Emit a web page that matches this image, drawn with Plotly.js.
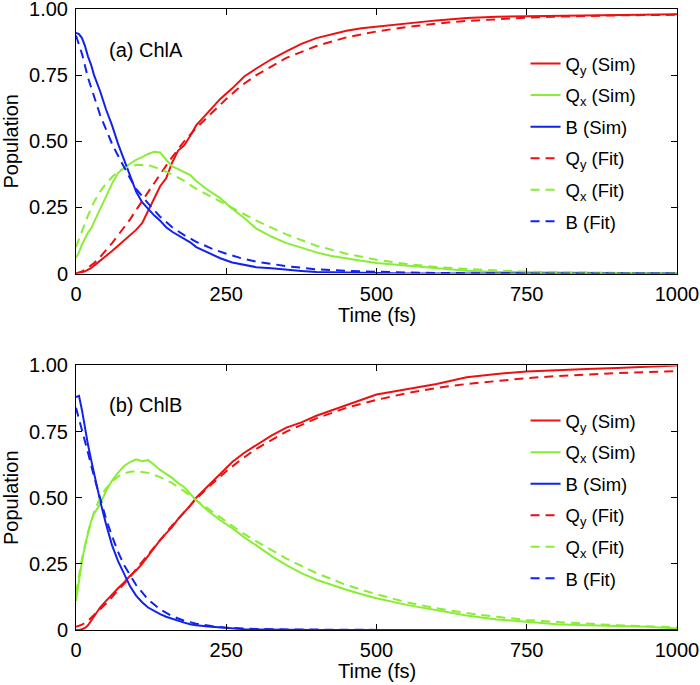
<!DOCTYPE html>
<html>
<head>
<meta charset="utf-8">
<script src="https://cdn.plot.ly/plotly-3.0.1.min.js"></script>
<style>html,body{margin:0;padding:0;background:#fff;}#chart{width:700px;height:685px;}</style>
</head>
<body>
<div id="chart"></div>
<script>
// Time grids (fs)
const tSim = [0,5,10,15,20,25,30,40,50,60,70,80,90,100,110,120,130,140,150,160,170,180,190,200,220,240,260,280,300,325,350,375,400,425,450,475,500,550,600,650,700,750,800,850,900,950,1000];
const tFit = [0,10,20,30,40,50,60,70,80,90,100,120,140,160,180,200,225,250,275,300,350,400,450,500,550,600,650,700,750,800,850,900,950,1000];

// (a) ChlA simulated populations
const QyA_sim = [0,0.003,0.005,0.008,0.015,0.02,0.03,0.048,0.065,0.085,0.105,0.125,0.145,0.165,0.19,0.235,0.28,0.33,0.36,0.42,0.465,0.485,0.52,0.56,0.61,0.66,0.70,0.745,0.775,0.81,0.84,0.868,0.89,0.905,0.918,0.927,0.933,0.946,0.957,0.966,0.971,0.973,0.974,0.975,0.976,0.978,0.98];
const QxA_sim = [0.06,0.08,0.11,0.135,0.155,0.17,0.195,0.245,0.29,0.34,0.38,0.40,0.415,0.43,0.44,0.452,0.46,0.458,0.43,0.405,0.395,0.385,0.372,0.35,0.315,0.285,0.245,0.21,0.17,0.14,0.115,0.098,0.08,0.066,0.056,0.048,0.04,0.03,0.021,0.011,0.006,0.005,0.004,0.003,0.002,0.001,0];
const BA_sim  = [0.91,0.905,0.89,0.86,0.82,0.79,0.75,0.69,0.62,0.56,0.49,0.43,0.37,0.31,0.27,0.245,0.22,0.20,0.175,0.158,0.145,0.13,0.118,0.10,0.078,0.058,0.042,0.032,0.024,0.02,0.014,0.01,0.006,0.005,0.003,0.002,0.001,0,0,0,0,0,0,0,0,0,0];
// (a) ChlA fits
const QyA_fit = [0,0.008,0.022,0.04,0.062,0.088,0.115,0.145,0.175,0.205,0.24,0.31,0.375,0.44,0.50,0.55,0.605,0.66,0.71,0.75,0.815,0.86,0.893,0.915,0.932,0.945,0.955,0.962,0.967,0.971,0.974,0.976,0.977,0.978];
const QxA_fit = [0.10,0.16,0.22,0.27,0.31,0.34,0.365,0.385,0.398,0.405,0.41,0.41,0.395,0.375,0.35,0.32,0.29,0.26,0.23,0.20,0.148,0.105,0.075,0.052,0.036,0.025,0.017,0.011,0.007,0.005,0.003,0.002,0.001,0.001];
const BA_fit  = [0.90,0.83,0.74,0.67,0.60,0.545,0.49,0.445,0.40,0.36,0.32,0.265,0.215,0.175,0.145,0.12,0.095,0.075,0.058,0.045,0.028,0.016,0.01,0.006,0.004,0.002,0.001,0,0,0,0,0,0,0];

// (b) ChlB simulated populations
const QyB_sim = [0,0,0.003,0.008,0.018,0.035,0.052,0.085,0.11,0.135,0.158,0.18,0.205,0.225,0.25,0.28,0.31,0.34,0.365,0.39,0.42,0.445,0.47,0.50,0.545,0.59,0.635,0.67,0.70,0.735,0.765,0.785,0.81,0.83,0.85,0.87,0.89,0.91,0.93,0.955,0.968,0.977,0.983,0.987,0.99,0.995,1.0];
const QxB_sim = [0.11,0.19,0.26,0.32,0.37,0.41,0.44,0.475,0.525,0.565,0.595,0.62,0.635,0.645,0.638,0.642,0.625,0.605,0.59,0.575,0.555,0.54,0.515,0.49,0.45,0.415,0.385,0.35,0.32,0.28,0.245,0.215,0.19,0.17,0.152,0.135,0.12,0.095,0.075,0.055,0.04,0.03,0.022,0.018,0.015,0.012,0.006];
const BB_sim  = [0.88,0.885,0.83,0.76,0.70,0.645,0.59,0.49,0.40,0.32,0.26,0.21,0.165,0.13,0.105,0.085,0.072,0.06,0.05,0.042,0.035,0.028,0.022,0.018,0.013,0.009,0.005,0.003,0.002,0.001,0,0,0,0,0,0,0,0,0,0,0,0,0,0,0,0,0];
// (b) ChlB fits
const QyB_fit = [0.012,0.02,0.035,0.055,0.078,0.10,0.125,0.15,0.175,0.20,0.23,0.285,0.34,0.395,0.445,0.495,0.55,0.60,0.645,0.685,0.75,0.80,0.84,0.87,0.895,0.915,0.93,0.942,0.952,0.96,0.966,0.971,0.975,0.978];
const QxB_fit = [0.14,0.27,0.37,0.445,0.50,0.535,0.56,0.58,0.592,0.598,0.60,0.594,0.578,0.555,0.525,0.49,0.45,0.41,0.37,0.335,0.27,0.215,0.17,0.135,0.105,0.082,0.064,0.05,0.038,0.03,0.023,0.018,0.014,0.01];
const BB_fit  = [0.84,0.76,0.67,0.58,0.50,0.42,0.355,0.295,0.245,0.205,0.17,0.115,0.078,0.052,0.035,0.024,0.015,0.009,0.006,0.004,0.002,0.001,0,0,0,0,0,0,0,0,0,0,0,0];

// Labels
const seriesNames = ['Q<sub>y</sub> (Sim)','Q<sub>x</sub> (Sim)','B (Sim)','Q<sub>y</sub> (Fit)','Q<sub>x</sub> (Fit)','B (Fit)'];
const panelLabels = ['(a) ChlA','(b) ChlB'];
const xTitle = 'Time (fs)';
const yTitle = 'Population';
const xTicks = [0,250,500,750,1000];
const yTicks = [0,0.25,0.5,0.75,1];
const yTickText = ['0','0.25','0.50','0.75','1.00'];

const RED = '#ec1111', GREEN = '#88ee33', BLUE = '#1122ee';
const colors = [RED, GREEN, BLUE, RED, GREEN, BLUE];
const FONT = 'Liberation Sans, Arial, Helvetica, sans-serif';

function makeTraces(sims, fits, xa, ya, leg) {
  const out = [];
  const ys = sims.concat(fits);
  ys.forEach((y, i) => {
    const isFit = i >= 3;
    out.push({
      type: 'scatter', mode: 'lines',
      x: isFit ? tFit : tSim, y: y,
      xaxis: xa, yaxis: ya,
      name: seriesNames[i],
      legend: leg,
      legendgroup: leg + i,
      line: {color: colors[i], width: 2, dash: isFit ? '9px,6px' : 'solid'}
    });
  });
  return out;
}

const data = makeTraces([QyA_sim, QxA_sim, BA_sim], [QyA_fit, QxA_fit, BA_fit], 'x', 'y', 'legend')
  .concat(makeTraces([QyB_sim, QxB_sim, BB_sim], [QyB_fit, QxB_fit, BB_fit], 'x2', 'y2', 'legend2'));

const axisBase = {
  showline: true, mirror: 'ticks', linecolor: '#000', linewidth: 1,
  ticks: 'inside', ticklen: 6, tickcolor: '#000', tickwidth: 1,
  showgrid: false, zeroline: false, ticklabeloverflow: 'allow',
  tickfont: {family: FONT, size: 20, color: '#000'}
};
function xAxis(anchor) {
  return Object.assign({}, axisBase, {
    anchor: anchor, range: [0, 1000], tickvals: xTicks, ticktext: xTicks.map(String),
    ticklabelstandoff: 2
  });
}
function yAxis(anchor, domain) {
  return Object.assign({}, axisBase, {
    anchor: anchor, domain: domain, range: [0, 1], tickvals: yTicks, ticktext: yTickText,
    ticklabelstandoff: 3,
    title: {text: yTitle, font: {family: FONT, size: 20, color: '#000'}, standoff: 6}
  });
}
const legendBase = {
  xanchor: 'left', yanchor: 'top', bgcolor: 'rgba(0,0,0,0)', borderwidth: 0,
  font: {family: FONT, size: 18.5, color: '#000'}, tracegroupgap: 4.5, itemclick: false
};
const annFont = {family: FONT, size: 20, color: '#000'};

const layout = {
  width: 700, height: 685,
  margin: {l: 76, r: 23, t: 9, b: 55},
  paper_bgcolor: '#fff', plot_bgcolor: '#fff',
  showlegend: true,
  xaxis: xAxis('y'), yaxis: yAxis('x', [0.574, 1]),
  xaxis2: xAxis('y2'), yaxis2: yAxis('x2', [0, 0.426]),
  legend: Object.assign({}, legendBase, {x: 0.748, y: 0.942}),
  legend2: Object.assign({}, legendBase, {x: 0.748, y: 0.367}),
  annotations: [
    {text: panelLabels[0], xref: 'x domain', yref: 'y domain', x: 0.052, y: 0.844, xanchor: 'left', yanchor: 'middle', showarrow: false, font: annFont},
    {text: panelLabels[1], xref: 'x2 domain', yref: 'y2 domain', x: 0.052, y: 0.849, xanchor: 'left', yanchor: 'middle', showarrow: false, font: annFont},
    {text: xTitle, xref: 'x domain', yref: 'y domain', x: 0.5, y: -0.158, xanchor: 'center', yanchor: 'middle', showarrow: false, font: annFont},
    {text: xTitle, xref: 'x2 domain', yref: 'y2 domain', x: 0.5, y: -0.156, xanchor: 'center', yanchor: 'middle', showarrow: false, font: annFont}
  ]
};

Plotly.newPlot('chart', data, layout, {displayModeBar: false, staticPlot: true});
</script>
</body>
</html>
